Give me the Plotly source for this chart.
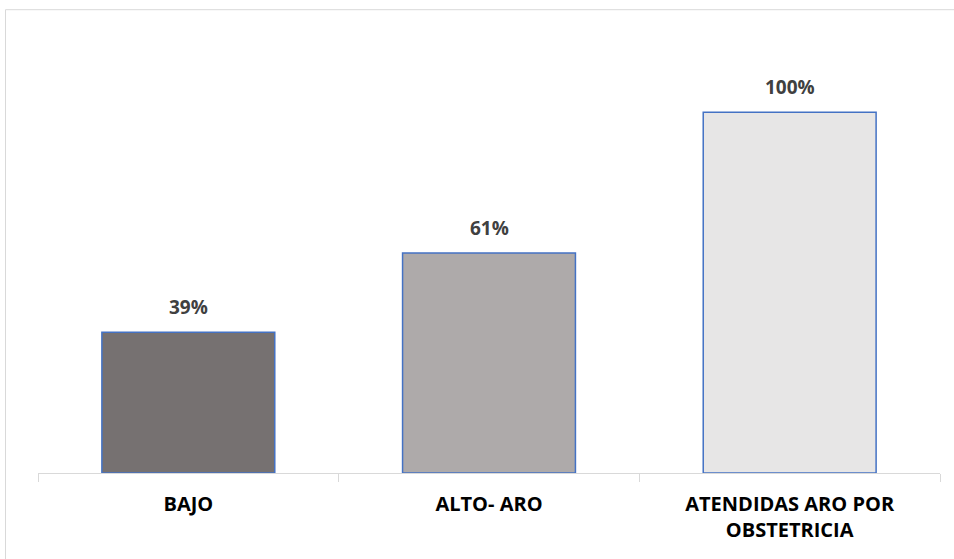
import plotly.graph_objects as go

# Categories and their shares
categories = ["BAJO", "ALTO- ARO", "ATENDIDAS ARO POR<br>OBSTETRICIA"]
shares = [0.39, 0.61, 1.00]
bar_colors = ["#767171", "#AEAAAA", "#E7E6E6"]

fig = go.Figure()
fig.add_trace(go.Bar(
    x=categories,
    y=shares,
    marker=dict(color=bar_colors, line=dict(color="#4472C4", width=1.5)),
    width=0.575,
    hoverinfo="skip",
))

# Value labels above each bar
for cat, val in zip(categories, shares):
    fig.add_annotation(
        x=cat, y=val, text=f"{round(val * 100)}%",
        showarrow=False, yanchor="bottom", yshift=10,
        font=dict(family="Open Sans", size=19, color="#404040", weight="bold"),
    )

# Light frame around the chart area
fig.add_shape(
    type="rect", xref="paper", yref="paper",
    x0=-0.036, x1=1.05, y0=-0.3, y1=1.07,
    line=dict(color="#D9D9D9", width=1), fillcolor="rgba(0,0,0,0)",
    layer="below",
)

fig.update_layout(
    width=954, height=559,
    margin=dict(l=38, r=14, t=40, b=86),
    paper_bgcolor="white", plot_bgcolor="white",
    showlegend=False,
    bargap=0.425,
    xaxis=dict(
        type="category",
        tickson="boundaries",
        ticks="outside", ticklen=8, tickcolor="#D9D9D9", tickwidth=1,
        showline=True, linecolor="#D9D9D9", linewidth=1,
        showgrid=False,
        tickfont=dict(family="Open Sans", size=20, color="#000000", weight="bold"),
        ticklabelstandoff=13,
    ),
    yaxis=dict(range=[0, 1.2], visible=False, showgrid=False, zeroline=False),
)

fig.write_html("out.html")
